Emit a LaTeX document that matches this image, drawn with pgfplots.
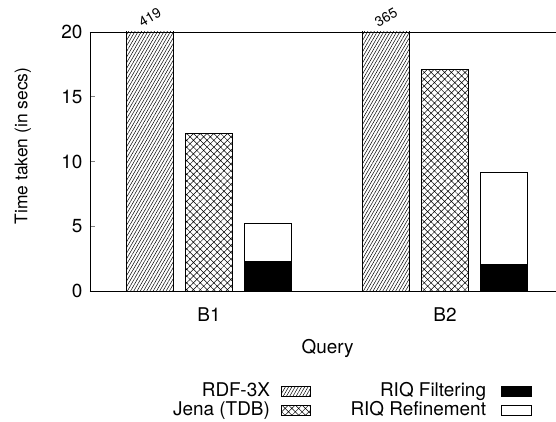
\documentclass[border=0pt]{standalone}
\usepackage{fontspec}
\setmainfont{TeX Gyre Heros}
\usepackage{pgfplots}
\pgfplotsset{compat=1.18}
\usepackage{pgfplotstable}
\usetikzlibrary{patterns.meta}

% times in secs; RDF-3X bars run off the top (419 and 365)
\pgfplotstableread{
q rdf jena filt refine
0 419 12.18 2.26 2.94
1 365 17.14 2.06 7.13
}\timings

\pgfplotsset{
  legbox/.style={legend image code/.code={\path (0bp,0bp); \draw[##1] (10bp,-5bp) rectangle (39bp,5bp);}},
  legboxb/.style={legend image code/.code={\path (0bp,0bp); \draw[##1] (14bp,-5bp) rectangle (44bp,5bp);}},
  rdfpat/.style={pattern={Lines[angle=60,distance=2.8bp,line width=0.5bp]}},
  jenapat/.style={pattern={Hatch[angle=45,distance=4.8bp,line width=0.5bp]}},
}

\begin{document}
\fontsize{19}{23}\selectfont
\begin{tikzpicture}
\begin{axis}[
    scale only axis,
    width=466bp, height=259bp,
    xmin=-0.504, xmax=1.47,
    ymin=0, ymax=20,
    axis x line*=box, axis y line*=left,
    axis line style={line width=0.8bp},
    xtick={0,1}, xticklabels={B1,B2},
    xtick style={draw=none},
    ytick={0,5,10,15,20}, ytick pos=left,
    tick align=inside, major tick length=5bp,
    ytick style={line width=0.6bp},
    /pgf/number format/assume math mode=true,
    xticklabel style={yshift=-10bp},
    yticklabel style={xshift=-1bp},
    xlabel={Query},
    xlabel style={at={(axis description cs:0.51,0)}, anchor=center, yshift=-57bp},
    ylabel={Time taken (in secs)},
    ylabel style={at={(axis description cs:-0.144,0.56)}, anchor=center, rotate=0,
      font=\fontsize{17.5}{21}\selectfont},
    clip mode=individual,
    legend columns=2,
    legend plot pos=right,
    legend cell align=right,
    legend style={draw=none, fill=none, inner sep=0pt,
      at={(axis description cs:0.562,-0.35)}, anchor=north,
      nodes={inner sep=1bp},
      /tikz/every odd column/.style={column sep=0bp},
      /tikz/every even column/.style={column sep=39bp}},
]
\addplot[ybar, bar width=0.2, bar shift=-0.25, draw=black, line width=0.6bp, rdfpat, forget plot]
  table[x=q, y=rdf] {\timings};
\addplot[ybar, bar width=0.2, bar shift=0, draw=black, line width=0.6bp, jenapat, forget plot]
  table[x=q, y=jena] {\timings};
\addplot[ybar, bar width=0.2, bar shift=0.25, draw=black, line width=0.6bp, fill=white, forget plot]
  table[x=q, y expr=\thisrow{filt}+\thisrow{refine}] {\timings};
\addplot[ybar, bar width=0.2, bar shift=0.25, draw=black, line width=0.6bp, fill=black, forget plot]
  table[x=q, y=filt] {\timings};

\addlegendimage{legbox, draw=black, line width=0.6bp, rdfpat}
\addlegendentry{RDF-3X}
\addlegendimage{legboxb, draw=black, line width=0.6bp, fill=black}
\addlegendentry{RIQ Filtering}
\addlegendimage{legbox, draw=black, line width=0.6bp, jenapat}
\addlegendentry{Jena (TDB)}
\addlegendimage{legboxb, draw=black, line width=0.6bp, fill=white}
\addlegendentry{RIQ Refinement}

\coordinate (top1) at (axis cs:-0.25,20);
\coordinate (top2) at (axis cs:0.75,20);
\coordinate (ll) at (rel axis cs:0,0);
\coordinate (ur) at (rel axis cs:1,1);
\end{axis}
\node[rotate=30, font=\fontsize{14}{16}\selectfont, inner sep=0pt] at ([yshift=15bp]top1) {419};
\node[rotate=30, font=\fontsize{14}{16}\selectfont, inner sep=0pt] at ([yshift=15bp]top2) {365};
\pgfresetboundingbox
\path[use as bounding box] ([xshift=-90bp,yshift=-131bp]ll) rectangle ([yshift=32bp]ur);
\end{tikzpicture}
\end{document}
